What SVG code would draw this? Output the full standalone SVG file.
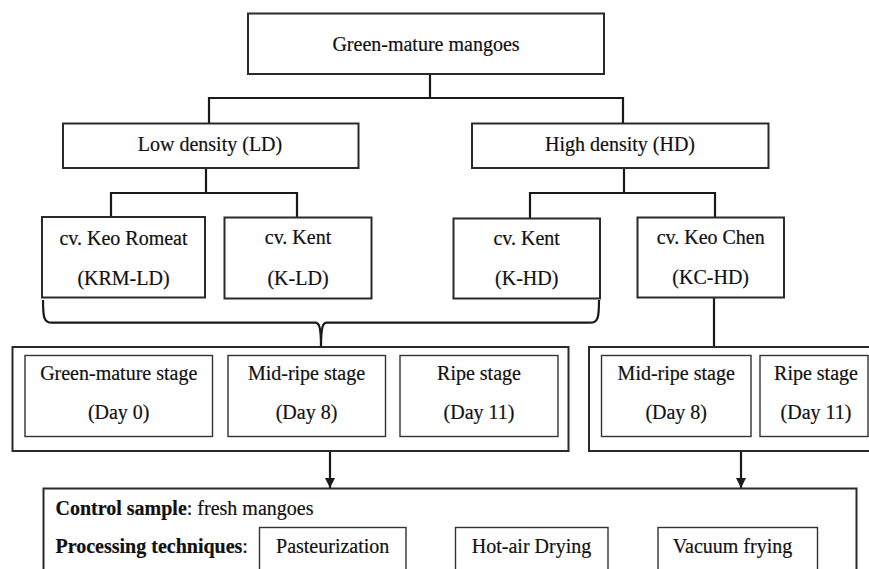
<svg xmlns="http://www.w3.org/2000/svg" width="869" height="569" viewBox="0 0 869 569">
<defs>
<style>
.box{fill:#fff;stroke:#2a2a2a;stroke-width:2}
.inner{fill:#fff;stroke:#333;stroke-width:1.4}
.ln{fill:none;stroke:#1a1a1a;stroke-width:2.2}
text{font-family:"Liberation Serif","Times New Roman",serif;font-size:20px;fill:#111;stroke:#111;stroke-width:0.2}
.c{text-anchor:middle}
.b{font-weight:bold}
</style>
<marker id="ah" viewBox="0 0 10 10" refX="10" refY="5" markerWidth="10" markerHeight="10" markerUnits="userSpaceOnUse" orient="auto">
<path d="M0,0 L10,5 L0,10 z" fill="#1a1a1a"/>
</marker>
</defs>
<rect width="869" height="569" fill="#fff"/>

<g id="connectors">
<path class="ln" d="M430,74 V98 M209,123 V98 H623 V123"/>
<path class="ln" d="M206,168 V193 M111,217 V193 H297 V217"/>
<path class="ln" d="M624,168 V193 M530,218 V193 H715 V218"/>
<path class="ln" d="M43,300 C43,318 44,322.7 52,322.7 L315,322.7 C319,322.7 321,326 321,347 C321,326 323,322.7 327,322.7 L590,322.7 C598,322.7 599,318 599,300"/>
<path class="ln" d="M714,298 V347"/>
<path class="ln" d="M330,451 V488" marker-end="url(#ah)"/>
<path class="ln" d="M741,451 V488" marker-end="url(#ah)"/>
</g>

<g id="root">
<rect class="box" x="248" y="13.5" width="356" height="60.5"/>
<text class="c" x="426" y="51">Green-mature mangoes</text>
</g>

<g id="ld">
<rect class="box" x="63" y="123.5" width="295.5" height="44.5"/>
<text class="c" x="210" y="151">Low density (LD)</text>
</g>
<g id="hd">
<rect class="box" x="472" y="123.5" width="296.5" height="44.5"/>
<text class="c" x="620" y="151">High density (HD)</text>
</g>

<g id="krm-ld">
<rect class="box" x="42" y="217" width="163" height="80.5"/>
<text class="c" x="123.5" y="245">cv. Keo Romeat</text>
<text class="c" x="123.5" y="285">(KRM-LD)</text>
</g>
<g id="k-ld">
<rect class="box" x="224.5" y="217.5" width="147" height="81"/>
<text class="c" x="298" y="244">cv. Kent</text>
<text class="c" x="298" y="285">(K-LD)</text>
</g>
<g id="k-hd">
<rect class="box" x="453.5" y="218.5" width="146.5" height="80"/>
<text class="c" x="526.7" y="245">cv. Kent</text>
<text class="c" x="526.7" y="285">(K-HD)</text>
</g>
<g id="kc-hd">
<rect class="box" x="637.5" y="217.5" width="146.5" height="80"/>
<text class="c" x="710.7" y="244">cv. Keo Chen</text>
<text class="c" x="710.7" y="284">(KC-HD)</text>
</g>

<g id="stages-left">
<rect class="box" x="12.5" y="347" width="556" height="104"/>
<rect class="inner" x="25" y="355.5" width="187.5" height="81"/>
<text class="c" x="118.7" y="380">Green-mature stage</text>
<text class="c" x="118.7" y="419">(Day 0)</text>
<rect class="inner" x="228" y="355.5" width="157.5" height="81"/>
<text class="c" x="306.5" y="380">Mid-ripe stage</text>
<text class="c" x="306.5" y="419">(Day 8)</text>
<rect class="inner" x="400" y="355.5" width="158" height="81"/>
<text class="c" x="479" y="380">Ripe stage</text>
<text class="c" x="479" y="419">(Day 11)</text>
</g>

<g id="stages-right">
<rect class="box" x="589" y="347" width="300" height="104"/>
<rect class="inner" x="601.5" y="355.5" width="149.5" height="81"/>
<text class="c" x="676.2" y="380">Mid-ripe stage</text>
<text class="c" x="676.2" y="419">(Day 8)</text>
<rect class="inner" x="760" y="355.5" width="108" height="81"/>
<text class="c" x="816" y="380">Ripe stage</text>
<text class="c" x="816" y="419">(Day 11)</text>
</g>

<g id="processing">
<rect class="box" x="43.5" y="488.5" width="813" height="100"/>
<text x="55.5" y="515"><tspan class="b">Control sample</tspan>: fresh mangoes</text>
<text x="55.5" y="553"><tspan class="b">Processing techniques</tspan>:</text>
<rect class="inner" x="259.5" y="527.5" width="146.5" height="60"/>
<text class="c" x="332.7" y="553">Pasteurization</text>
<rect class="inner" x="455.5" y="527.5" width="152.5" height="60"/>
<text class="c" x="531.5" y="553">Hot-air Drying</text>
<rect class="inner" x="658" y="527.5" width="159.5" height="60"/>
<text class="c" x="732.5" y="553">Vacuum frying</text>
</g>
</svg>
